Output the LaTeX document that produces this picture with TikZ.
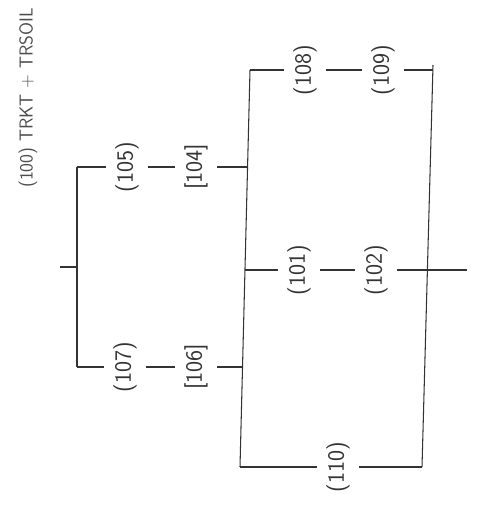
\documentclass[tikz,border=0pt]{standalone}
\usepackage{amsmath,amssymb}
\usepackage[]{xcolor}
\usepackage[]{tikz}

\begin{document}
\begin{tikzpicture}[x=0.03cm, y=-0.03cm,
        lbl/.style={rotate=90, font=\fontsize{20}{24}\selectfont\sffamily, text=black!80, inner sep=2pt, outer sep=6pt},
        ln/.style={black!80, line width=0.9pt}]
        \useasboundingbox (0, 0) rectangle (477, 517);

        \node[lbl, text=black!70] (n100) at (28, 98) {\scalebox{0.8}{(100) TRKT + TRSOIL}};

        \node[lbl] (n105) at (127, 167) {(105)};
        \node[lbl] (n104) at (196, 167) {[104]};
        \node[lbl] (n107) at (125, 367) {(107)};
        \node[lbl] (n106) at (196, 367) {[106]};

        \node[lbl] (n108) at (305, 70) {(108)};
        \node[lbl] (n109) at (383, 70) {(109)};
        \node[lbl] (n101) at (299, 270) {(101)};
        \node[lbl] (n102) at (376, 270) {(102)};
        \node[lbl] (n110) at (338, 467) {(110)};

        % left fork
        \coordinate (c0) at (60, 267);
        \coordinate (j0) at (77, 267);
        \coordinate (jt) at (77, 167);
        \coordinate (jb) at (77, 367);

        % long bars
        \coordinate (vt) at (250, 70);
        \coordinate (v1) at (248, 167);
        \coordinate (v2) at (245, 270);
        \coordinate (v3) at (243, 367);
        \coordinate (vb) at (240, 467);
        \coordinate (rt) at (433, 65);
        \coordinate (r2) at (428, 270);
        \coordinate (rb) at (422, 467);
        \coordinate (re) at (467, 270);

        \draw[ln] (c0) -- (j0);
        \draw[ln] (jt) -- (jb);
        \draw[ln] (jt) -- (n105);
        \draw[ln] (jb) -- (n107);
        \draw[ln] (n105) -- (n104);
        \draw[ln] (n107) -- (n106);
        \draw[ln] (n104) -- (v1);
        \draw[ln] (n106) -- (v3);

        \draw[ln] (vt) -- (vb);
        \draw[ln] (rt) -- (rb);

        \draw[ln] (vt) -- (n108);
        \draw[ln] (n108) -- (n109);
        \draw[ln] (n109) -- (rt |- n109);
        \draw[ln] (v2) -- (n101);
        \draw[ln] (n101) -- (n102);
        \draw[ln] (n102) -- (r2);
        \draw[ln] (r2) -- (re);
        \draw[ln] (vb) -- (n110);
        \draw[ln] (n110) -- (rb);
      \end{tikzpicture}
\end{document}
